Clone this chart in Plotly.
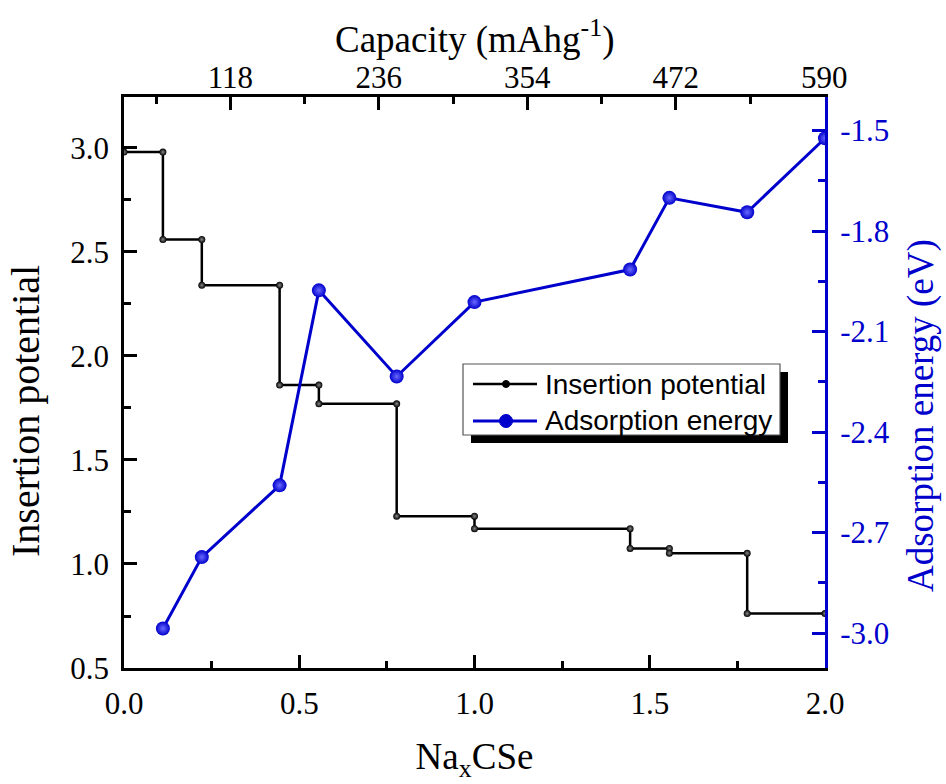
import plotly.graph_objects as go

# ---- data ----
na_bounds = [0.0, 0.111, 0.222, 0.444, 0.556, 0.778, 1.0, 1.444, 1.556, 1.778, 2.0]
insertion_potential = [2.98, 2.56, 2.34, 1.86, 1.77, 1.23, 1.17, 1.075, 1.052, 0.762]

ads_x = [0.111, 0.222, 0.444, 0.556, 0.778, 1.0, 1.444, 1.556, 1.778, 2.0]
ads_energy = [-2.986, -2.773, -2.559, -1.977, -2.234, -2.012, -1.915, -1.701, -1.744, -1.523]

cap_ticks = [118, 236, 354, 472, 590]
cap_labels = ["118", "236", "354", "472", "590"]

series_names = ["Insertion potential", "Adsorption energy"]

# step curve: a marker at both ends of each plateau
step_x, step_y = [], []
for i, v in enumerate(insertion_potential):
    step_x += [na_bounds[i], na_bounds[i + 1]]
    step_y += [v, v]

SERIF = "Liberation Serif, Times New Roman, serif"
SANS = "Liberation Sans, Arial, sans-serif"
BLUE = "#0000CC"

# plot-area geometry in pixels (for placing paper-referenced decorations)
L, R, T, B = 124, 825, 97, 668
W, H = R - L, B - T
def px(x):
    return (x - L) / W
def py(y):
    return (B - y) / H

fig = go.Figure()
fig.add_trace(go.Scatter(
    x=step_x, y=step_y, name=series_names[0], mode="lines+markers",
    line=dict(color="black", width=2.5),
    marker=dict(size=7, color="black", symbol="circle",
                gradient=dict(type="radial", color="#888888")),
    xaxis="x", yaxis="y", showlegend=False))
fig.add_trace(go.Scatter(
    x=ads_x, y=ads_energy, name=series_names[1], mode="lines+markers",
    line=dict(color=BLUE, width=3),
    marker=dict(size=14, color=BLUE, symbol="circle",
                gradient=dict(type="radial", color="#6a6aff")),
    xaxis="x", yaxis="y2", showlegend=False))
# helper (empty) trace so the top capacity axis is drawn
fig.add_trace(go.Scatter(x=[None], y=[None], xaxis="x2", yaxis="y",
                         showlegend=False, hoverinfo="skip"))

fig.update_layout(
    width=946, height=784,
    margin=dict(l=L, r=946 - R, t=T, b=784 - B, autoexpand=False),
    paper_bgcolor="white", plot_bgcolor="white",
    showlegend=False,
    xaxis=dict(range=[0, 2.0], tickmode="array", tickvals=[0, 0.5, 1.0, 1.5, 2.0],
               ticktext=["0.0", "0.5", "1.0", "1.5", "2.0"],
               ticks="inside", ticklen=13, tickwidth=2.5, tickcolor="black",
               minor=dict(ticks="inside", ticklen=7, tickwidth=2.5, tickcolor="black",
                          tickvals=[0.25, 0.75, 1.25, 1.75]),
               showline=True, linecolor="black", linewidth=2.5, mirror=False,
               showgrid=False, zeroline=False, automargin=False,
               tickfont=dict(family=SERIF, size=31, color="black"),
               ticklabelstandoff=6,
               title=dict(text="Na<sub>x</sub>CSe", font=dict(family=SERIF, size=37, color="black"),
                          standoff=24)),
    xaxis2=dict(overlaying="x", side="top", range=[33.5, 590.5],
                tickmode="array", tickvals=cap_ticks, ticktext=cap_labels,
                ticks="inside", ticklen=13, tickwidth=2.5, tickcolor="black",
                minor=dict(ticks="inside", ticklen=7, tickwidth=2.5, tickcolor="black",
                           tickvals=[59, 177, 295, 413, 531]),
                showline=True, linecolor="black", linewidth=2.5,
                showgrid=False, zeroline=False, automargin=False,
                tickfont=dict(family=SERIF, size=31, color="black"),
                ticklabelstandoff=-6),
    yaxis=dict(range=[0.5, 3.245], tickmode="array",
               tickvals=[0.5, 1.0, 1.5, 2.0, 2.5, 3.0],
               ticktext=["0.5", "1.0", "1.5", "2.0", "2.5", "3.0"],
               ticks="inside", ticklen=13, tickwidth=2.5, tickcolor="black",
               minor=dict(ticks="inside", ticklen=7, tickwidth=2.5, tickcolor="black",
                          tickvals=[0.75, 1.25, 1.75, 2.25, 2.75, 3.25]),
               showline=True, linecolor="black", linewidth=2.5,
               showgrid=False, zeroline=False, automargin=False,
               tickfont=dict(family=SERIF, size=31, color="black"),
               ticklabelstandoff=6),
    yaxis2=dict(overlaying="y", side="right", range=[-3.104, -1.40], tickmode="array",
                tickvals=[-3.0, -2.7, -2.4, -2.1, -1.8, -1.5],
                ticktext=["-3.0", "-2.7", "-2.4", "-2.1", "-1.8", "-1.5"],
                ticks="inside", ticklen=13, tickwidth=2.5, tickcolor=BLUE,
                minor=dict(ticks="inside", ticklen=7, tickwidth=2.5, tickcolor=BLUE,
                           tickvals=[-2.85, -2.55, -2.25, -1.95, -1.65]),
                showline=True, linecolor=BLUE, linewidth=3,
                showgrid=False, zeroline=False, automargin=False,
                tickfont=dict(family=SERIF, size=31, color=BLUE),
                ticklabelstandoff=6),
)

# top axis title
fig.add_annotation(text="Capacity (mAhg<sup>-1</sup>)", xref="paper", yref="paper",
                   x=px(474), y=py(37), xanchor="center", yanchor="middle",
                   showarrow=False,
                   font=dict(family=SERIF, size=37, color="black"))
# rotated y-axis titles (placed off-centre as in the reference)
fig.add_annotation(text="Insertion potential", xref="paper", yref="paper",
                   x=px(25), y=py(411), xanchor="center", yanchor="middle",
                   textangle=-90, showarrow=False,
                   font=dict(family=SERIF, size=40, color="black"))
fig.add_annotation(text="Adsorption energy (eV)", xref="paper", yref="paper",
                   x=px(921), y=py(416), xanchor="center", yanchor="middle",
                   textangle=-90, showarrow=False,
                   font=dict(family=SERIF, size=37, color=BLUE))

# ---- legend box with drop shadow ----
fig.add_shape(type="rect", xref="paper", yref="paper", layer="above",
              x0=px(471), x1=px(788), y0=py(443), y1=py(372),
              fillcolor="black", line=dict(width=0))
fig.add_shape(type="rect", xref="paper", yref="paper", layer="above",
              x0=px(463), x1=px(780), y0=py(435), y1=py(364),
              fillcolor="white", line=dict(color="#555555", width=1.2))
legend_rows = [(384, "black", 2.5, 3.5), (421, BLUE, 3, 6.5)]
for (yy, col, lw, rad), name in zip(legend_rows, series_names):
    fig.add_shape(type="line", xref="paper", yref="paper", layer="above",
                  x0=px(473), x1=px(537), y0=py(yy), y1=py(yy),
                  line=dict(color=col, width=lw))
    fig.add_shape(type="circle", xref="paper", yref="paper", layer="above",
                  x0=px(506 - rad), x1=px(506 + rad), y0=py(yy + rad), y1=py(yy - rad),
                  fillcolor=col, line=dict(color=col, width=1))
    fig.add_annotation(text=name, xref="paper", yref="paper",
                       x=px(543), y=py(yy), xanchor="left", yanchor="middle",
                       showarrow=False,
                       font=dict(family=SANS, size=28, color="black"))

fig.write_html("out.html")
